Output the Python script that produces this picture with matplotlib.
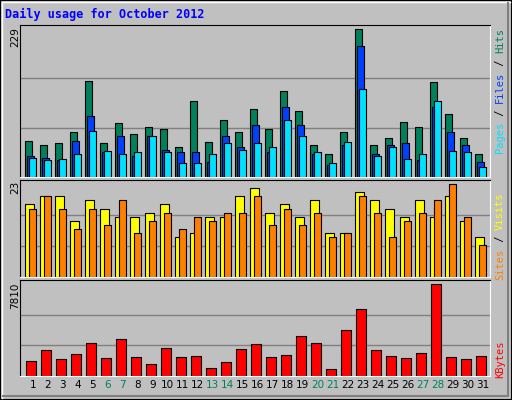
import matplotlib
matplotlib.use('Agg')
import matplotlib.pyplot as plt
from matplotlib.patches import Rectangle

days = list(range(1, 32))
weekend = [6, 7, 13, 14, 20, 21, 27, 28]

hits = [56, 50, 52, 70, 148, 52, 83, 66, 77, 74, 46, 117, 55, 88, 69, 105,
        74, 133, 103, 49, 35, 70, 229, 50, 61, 86, 77, 147, 98, 60, 35]
files = [32, 30, 27, 56, 95, 38, 63, 32, 63, 42, 38, 39, 24, 64, 46, 81,
         39, 109, 81, 35, 18, 49, 203, 35, 49, 52, 27, 109, 69, 49, 24]
pages = [30, 27, 28, 35, 72, 41, 36, 39, 63, 39, 21, 21, 36, 52, 42, 53,
         46, 88, 63, 38, 21, 55, 137, 33, 47, 28, 35, 117, 41, 38, 16]
visits = [18, 20, 20, 14, 19, 17, 15, 15, 16, 18, 10, 11, 15, 15, 20, 22,
          16, 18, 15, 19, 11, 11, 21, 19, 17, 15, 19, 15, 20, 14, 10]
sites = [17, 20, 17, 12, 17, 13, 19, 11, 14, 16, 12, 15, 14, 16, 16, 20,
         13, 17, 13, 16, 10, 11, 20, 16, 10, 14, 16, 19, 23, 15, 8]
kbytes = [1311, 2252, 1482, 1910, 2850, 1568, 3193, 1653, 1055, 2423, 1653,
          1739, 713, 1226, 2337, 2765, 1653, 1824, 3449, 2850, 627, 3876,
          5672, 2252, 1739, 1568, 1995, 7810, 1653, 1482, 1739]

W, H = 512, 400
fig = plt.figure(figsize=(W / 100, H / 100), dpi=100, facecolor='#c0c0c0')

# frame bevel
fig.patches.append(Rectangle((0, 0), 1, 1, transform=fig.transFigure, fill=False,
                             edgecolor='black', linewidth=1.5))
fig.add_artist(plt.Line2D([2 / W, 2 / W, 1 - 2 / W], [2 / H, 1 - 2 / H, 1 - 2 / H],
                          transform=fig.transFigure, color='white', lw=1))
fig.add_artist(plt.Line2D([3 / W, 1 - 4 / W, 1 - 4 / W], [4 / H, 4 / H, 1 - 3 / H],
                          transform=fig.transFigure, color='#808080', lw=1.5))

def pax(top, bottom):
    ax = fig.add_axes([20 / W, 1 - bottom / H, 470 / W, (bottom - top) / H])
    ax.set_facecolor('#c0c0c0')
    ax.set_xlim(-0.35, 30.98)
    ax.set_xticks([])
    ax.set_yticks([])
    for s in ['top', 'left']:
        ax.spines[s].set_color('black')
    for s in ['bottom', 'right']:
        ax.spines[s].set_color('white')
    return ax

x = [d - 1 for d in days]
ek = dict(edgecolor='black', linewidth=0.8, align='edge')

ax1 = pax(24.7, 177)
ax1.set_ylim(0, 236)
for g in (229 / 3, 229 * 2 / 3):
    ax1.axhline(g, color='#808080', lw=1, zorder=0)
ax1.bar(x, hits, 0.47, color='#00805c', **ek)
ax1.bar([i + 0.13 for i in x], files, 0.47, color='#0040ff', **ek)
ax1.bar([i + 0.27 for i in x], pages, 0.47, color='#00e0ff', **ek)

ax2 = pax(180.3, 277)
ax2.set_ylim(0, 24)
for g in (23 / 3, 23 * 2 / 3):
    ax2.axhline(g, color='#808080', lw=1, zorder=0)
ax2.bar(x, visits, 0.6, color='#ffff00', **ek)
ax2.bar([i + 0.27 for i in x], sites, 0.47, color='#ff8000', **ek)

ax3 = pax(280.3, 376)
ax3.set_ylim(0, 8152)
for g in (7810 / 3, 7810 * 2 / 3):
    ax3.axhline(g, color='#808080', lw=1, zorder=0)
ax3.bar([i + 0.07 for i in x], kbytes, 0.67, color='#ff0000', **ek)

for d, i in zip(days, x):
    ax3.text(i + 0.5, -0.09, str(d), transform=ax3.get_xaxis_transform(),
             ha='center', va='center', fontsize=7.5,
             color='#00805c' if d in weekend else 'black')

mono = 'DejaVu Sans Mono'
fig.text(5 / W, 1 - 14 / H, 'Daily usage for October 2012', color='#0000ff',
         fontsize=8.5, fontweight='bold', family=mono, va='center')

for label, ytop in [('229', 27), ('23', 181), ('7810', 283)]:
    fig.text(15 / W, 1 - ytop / H, label, rotation=90, fontsize=7.5,
             family='DejaVu Sans', ha='center', va='top')

fs = 7.5
cw = 0.6 * fs * 100 / 72  # px per char
def vlabel(parts, ytop):
    n = sum(len(p) for p, _ in parts)
    y = ytop + n * cw
    for p, c in parts:
        fig.text(500 / W, 1 - y / H, p, rotation=90, fontsize=fs, family=mono,
                 color=c, ha='center', va='bottom')
        y -= len(p) * cw

vlabel([('Pages', '#00e0ff'), (' / ', 'black'), ('Files', '#0040ff'),
        (' / ', 'black'), ('Hits', '#00805c')], 28)
vlabel([('Sites', '#ff8000'), (' / ', 'black'), ('Visits', '#ffff00')], 192)
vlabel([('KBytes', '#ff0000')], 340)

fig.savefig('out.png', dpi=100, facecolor=fig.get_facecolor())
